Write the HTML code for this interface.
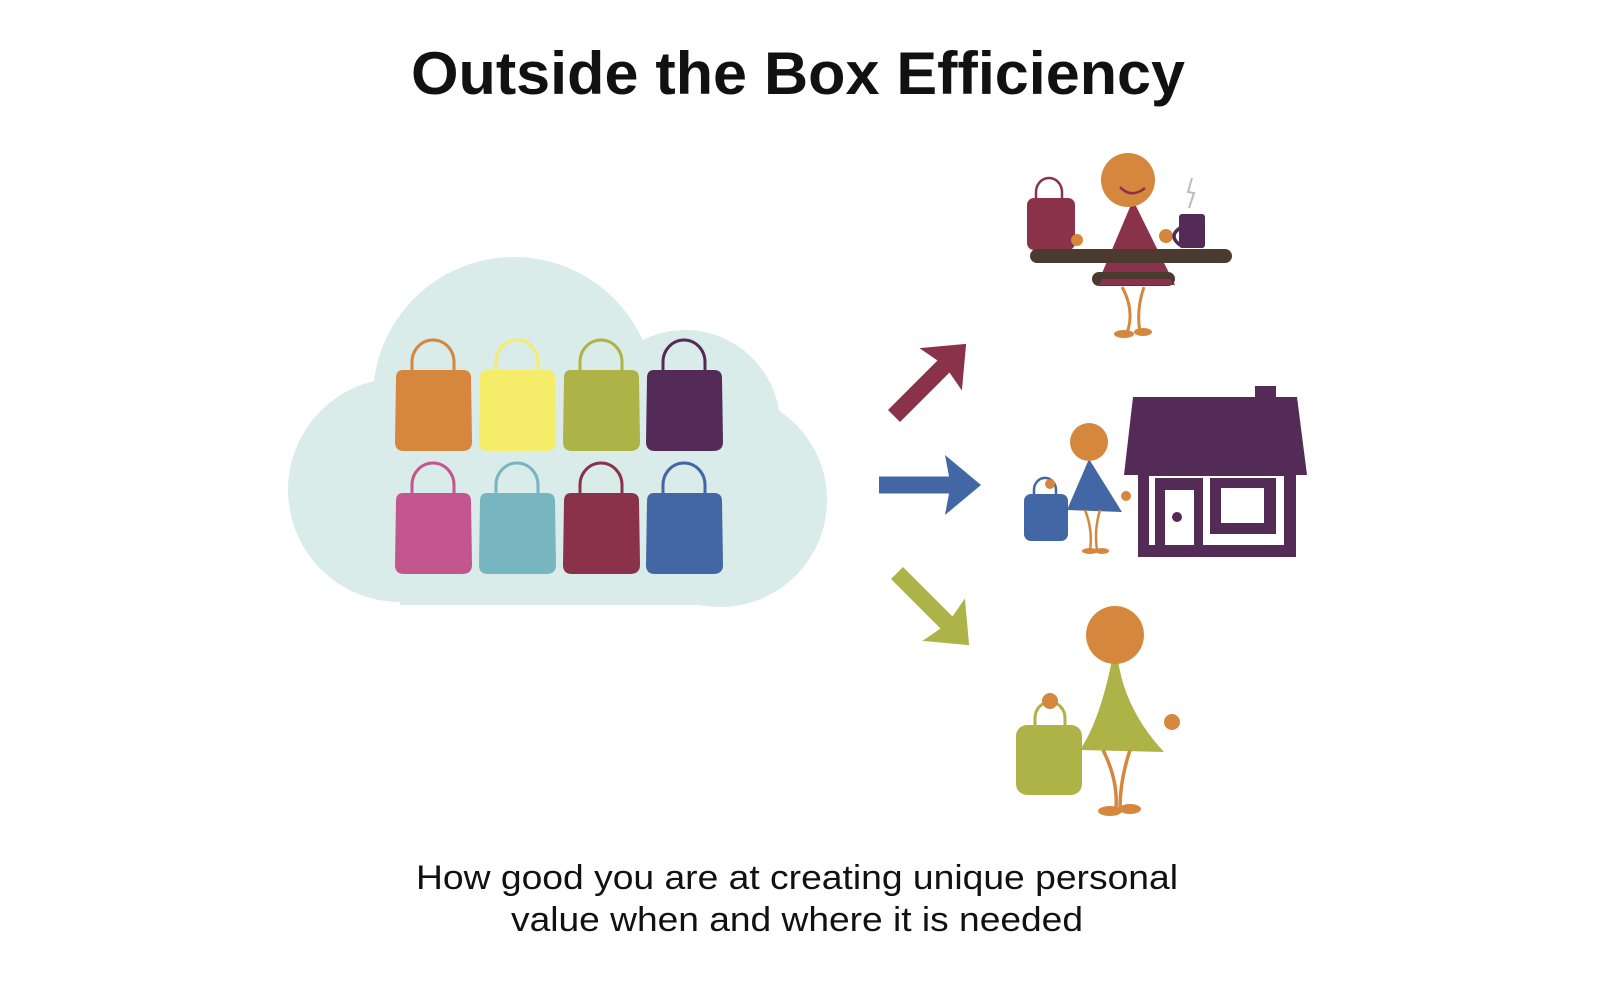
<!DOCTYPE html>
<html><head><meta charset="utf-8"><style>
html,body{margin:0;padding:0;background:#fff;}
svg{display:block;}
</style></head><body>
<svg width="1600" height="998" viewBox="0 0 1600 998" xmlns="http://www.w3.org/2000/svg">
<text x="798" y="94" text-anchor="middle" font-family="Liberation Sans, sans-serif" font-weight="bold" font-size="60" fill="#111" textLength="774" lengthAdjust="spacingAndGlyphs">Outside the Box Efficiency</text>

<!-- cloud -->
<g fill="#d9ecea">
<circle cx="514" cy="398" r="141"/>
<circle cx="685" cy="425" r="95"/>
<circle cx="400" cy="490" r="112"/>
<circle cx="720" cy="500" r="107"/>
<rect x="400" y="450" width="320" height="155"/>
</g>

<!-- bags -->
<defs>
<g id="bag">
<path d="M17 3 L17 -8 A21 22 0 0 1 59 -8 L59 3" fill="none" stroke-width="3" stroke="currentColor"/>
<path d="M8 0 H68 Q76 0 76 8 L77 72 Q77 81 67 81 H9 Q0 81 0 72 L1 8 Q1 0 8 0Z" fill="currentColor"/>
</g>
</defs>
<g transform="translate(395,370)"><use href="#bag" color="#d4873d"/></g>
<g transform="translate(479,370)"><use href="#bag" color="#f5ec6a"/></g>
<g transform="translate(563,370)"><use href="#bag" color="#adb346"/></g>
<g transform="translate(646,370)"><use href="#bag" color="#542a57"/></g>
<g transform="translate(395,493)"><use href="#bag" color="#c4568f"/></g>
<g transform="translate(479,493)"><use href="#bag" color="#77b6c0"/></g>
<g transform="translate(563,493)"><use href="#bag" color="#8b324b"/></g>
<g transform="translate(646,493)"><use href="#bag" color="#4267a4"/></g>

<!-- arrows -->
<defs><path id="arr" d="M0 -8.5 H70 L66 -30 L102 0 L66 30 L70 8.5 H0Z"/></defs>
<use href="#arr" fill="#8b324b" transform="translate(894,416) rotate(-45)"/>
<use href="#arr" fill="#4267a4" transform="translate(879,485)"/>
<use href="#arr" fill="#adb346" transform="translate(897,573) rotate(45)"/>

<!-- top figure -->
<g>
<path d="M1036 199 L1036 192 A13 14 0 0 1 1062 192 L1062 199" fill="none" stroke="#8b324b" stroke-width="2.5"/>
<rect x="1027" y="198" width="48" height="52" rx="7" fill="#8b324b"/>
<circle cx="1077" cy="240" r="6" fill="#d4873d"/>
<path d="M1133 200 L1097 285 L1175 285 Z" fill="#8b324b"/>
<rect x="1030" y="249" width="202" height="14" rx="7" fill="#4b3a2e"/>
<rect x="1092" y="272" width="83" height="14" rx="7" fill="#4b3a2e"/>
<path d="M1099 285 L1173 285 L1170 279 L1102 279Z" fill="#8b324b"/>
<path d="M1122 287 Q1135 310 1127 333 M1144 287 Q1136 310 1140 332" stroke="#d4873d" stroke-width="3" fill="none"/>
<ellipse cx="1124" cy="334" rx="10" ry="4" fill="#d4873d"/>
<ellipse cx="1143" cy="332" rx="9" ry="4" fill="#d4873d"/>
<circle cx="1128" cy="180" r="27" fill="#d4873d"/>
<path d="M1120 187 Q1131 199 1145 188" stroke="#8b324b" stroke-width="2.5" fill="none"/>
<circle cx="1166" cy="236" r="7" fill="#d4873d"/>
<path d="M1180 228 Q1168 236 1180 245" stroke="#542a57" stroke-width="3.5" fill="none"/>
<rect x="1179" y="214" width="26" height="34" rx="3" fill="#542a57"/>
<path d="M1192 178 L1188 192 L1194 193 L1189 208" stroke="#bbb" stroke-width="2" fill="none"/>
</g>

<!-- house -->
<g fill="#542a57">
<rect x="1255" y="386" width="21" height="14"/>
<path d="M1133 397 H1297 L1307 475 H1124Z"/>
<rect x="1138" y="473" width="158" height="84"/>
</g>
<rect x="1149" y="476" width="135" height="69" fill="#fff"/>
<rect x="1155" y="478" width="48" height="69" fill="#542a57"/>
<rect x="1165" y="490" width="29" height="57" fill="#fff"/>
<circle cx="1177" cy="517" r="5" fill="#542a57"/>
<rect x="1210" y="478" width="66" height="56" fill="#542a57"/>
<rect x="1221" y="488" width="43" height="35" fill="#fff"/>
<rect x="1138" y="545" width="158" height="12" fill="#542a57"/>

<!-- blue figure -->
<g>
<path d="M1034 495 L1034 490 A10 11 0 0 1 1056 490 L1056 495" fill="none" stroke="#4267a4" stroke-width="2.5"/>
<rect x="1024" y="494" width="44" height="47" rx="7" fill="#4267a4"/>
<circle cx="1050" cy="484" r="5" fill="#d4873d"/>
<path d="M1089 459 L1067 510 L1122 512 Z" fill="#4267a4"/>
<path d="M1085 510 Q1093 530 1090 550 M1100 510 Q1094 530 1097 550" stroke="#d4873d" stroke-width="2.5" fill="none"/>
<ellipse cx="1090" cy="551" rx="8" ry="3" fill="#d4873d"/>
<ellipse cx="1102" cy="551" rx="7" ry="3" fill="#d4873d"/>
<circle cx="1089" cy="442" r="19" fill="#d4873d"/>
<circle cx="1126" cy="496" r="5" fill="#d4873d"/>
</g>

<!-- green figure -->
<g>
<path d="M1035 727 L1035 718 A15 16 0 0 1 1065 718 L1065 727" fill="none" stroke="#adb346" stroke-width="3"/>
<rect x="1016" y="725" width="66" height="70" rx="11" fill="#adb346"/>
<circle cx="1050" cy="701" r="8" fill="#d4873d"/>
<path d="M1112 660 Q1100 720 1080 750 L1164 752 Q1125 710 1118 660Z" fill="#adb346"/>
<path d="M1103 750 Q1118 780 1116 808 M1130 750 Q1120 780 1120 808" stroke="#d4873d" stroke-width="3.5" fill="none"/>
<ellipse cx="1110" cy="811" rx="12" ry="5" fill="#d4873d"/>
<ellipse cx="1130" cy="809" rx="11" ry="5" fill="#d4873d"/>
<circle cx="1115" cy="635" r="29" fill="#d4873d"/>
<circle cx="1172" cy="722" r="8" fill="#d4873d"/>
</g>

<text x="797" y="889" text-anchor="middle" font-family="Liberation Sans, sans-serif" font-size="34" fill="#111" textLength="762" lengthAdjust="spacingAndGlyphs">How good you are at creating unique personal</text>
<text x="797" y="931" text-anchor="middle" font-family="Liberation Sans, sans-serif" font-size="34" fill="#111" textLength="572" lengthAdjust="spacingAndGlyphs">value when and where it is needed</text>
</svg>
</body></html>
